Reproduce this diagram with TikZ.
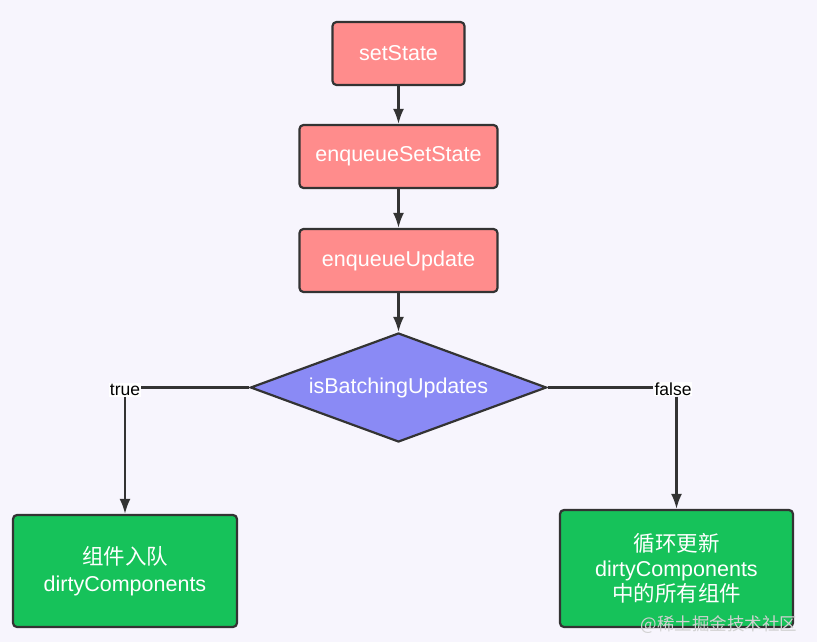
\documentclass[tikz,border=0pt]{standalone}
\usepackage{fontspec}
\setmainfont{Liberation Sans}
\newfontfamily\cjk{Noto Sans CJK SC}
\usepackage{tikz}
\usetikzlibrary{arrows.meta,shapes.geometric}

\definecolor{bgcol}{HTML}{F7F5FD}
\definecolor{pinkbox}{HTML}{FF8C8C}
\definecolor{bluedia}{HTML}{8A8AF5}
\definecolor{greenbox}{HTML}{16C25A}
\definecolor{edge}{HTML}{333333}

\begin{document}
\begin{tikzpicture}[x=1pt, y=-1pt,
    every node/.style={font=\fontsize{21.5}{27}\selectfont},
    redbox/.style={draw=edge, line width=2.2pt, fill=pinkbox, rounded corners=4pt, text=white, inner sep=0pt},
    greenblock/.style={draw=edge, line width=2.2pt, fill=greenbox, rounded corners=4pt, text=white, inner sep=0pt, align=center},
    choice/.style={diamond, aspect=2.72, draw=edge, line width=2.2pt, fill=bluedia, text=white, inner sep=0pt, minimum width=296pt, minimum height=109pt},
    lbl/.style={fill=white, inner sep=1pt, font=\fontsize{17.5}{20}\selectfont},
    link/.style={draw=edge, line width=2.2pt},
    arr/.style={link, -{Latex[length=15pt,width=11pt]}}]
    \fill[bgcol] (0,0) rectangle (817,642);
    \useasboundingbox (0,0) rectangle (817,642);

    \node[redbox, minimum width=132pt, minimum height=63pt] (set) at (398.5,53.5) {setState};
    \node[redbox, minimum width=198pt, minimum height=63pt] (enq) at (398.5,156.5) {enqueueSetState};
    \node[redbox, minimum width=198pt, minimum height=63pt] (upd) at (398.5,260.5) {enqueueUpdate};
    \node[choice] (batch) at (398.5,387.5) {isBatchingUpdates};

    \node[lbl] (yes) at (125,390) {true};
    \node[lbl] (no) at (673,389) {false};

    \node[greenblock, minimum width=224pt, minimum height=112pt] (queue) at (125,571) {{\cjk 组件入队}\\dirtyComponents};
    \node[greenblock, minimum width=233pt, minimum height=117pt] (loop) at (676.5,568.5) {{\cjk 循环更新}\\[-2pt]dirtyComponents\\[-2pt]{\cjk 中的所有组件}};

    \draw[arr] (set) -- (enq);
    \draw[arr] (enq) -- (upd);
    \draw[arr] (upd) -- (batch);
    \draw[link] (batch.west) -- (batch.west -| yes.east);
    \draw[link] (batch.east) -- (batch.east -| no.west);
    \draw[arr] (yes.south) -- (queue.north);
    \draw[arr] (no.south -| loop.north) -- (loop.north);

    \node[text=gray!35, font=\cjk\fontsize{17.5}{20}\selectfont] (mark) at (719,625) {@稀土掘金技术社区};
\end{tikzpicture}
\end{document}
